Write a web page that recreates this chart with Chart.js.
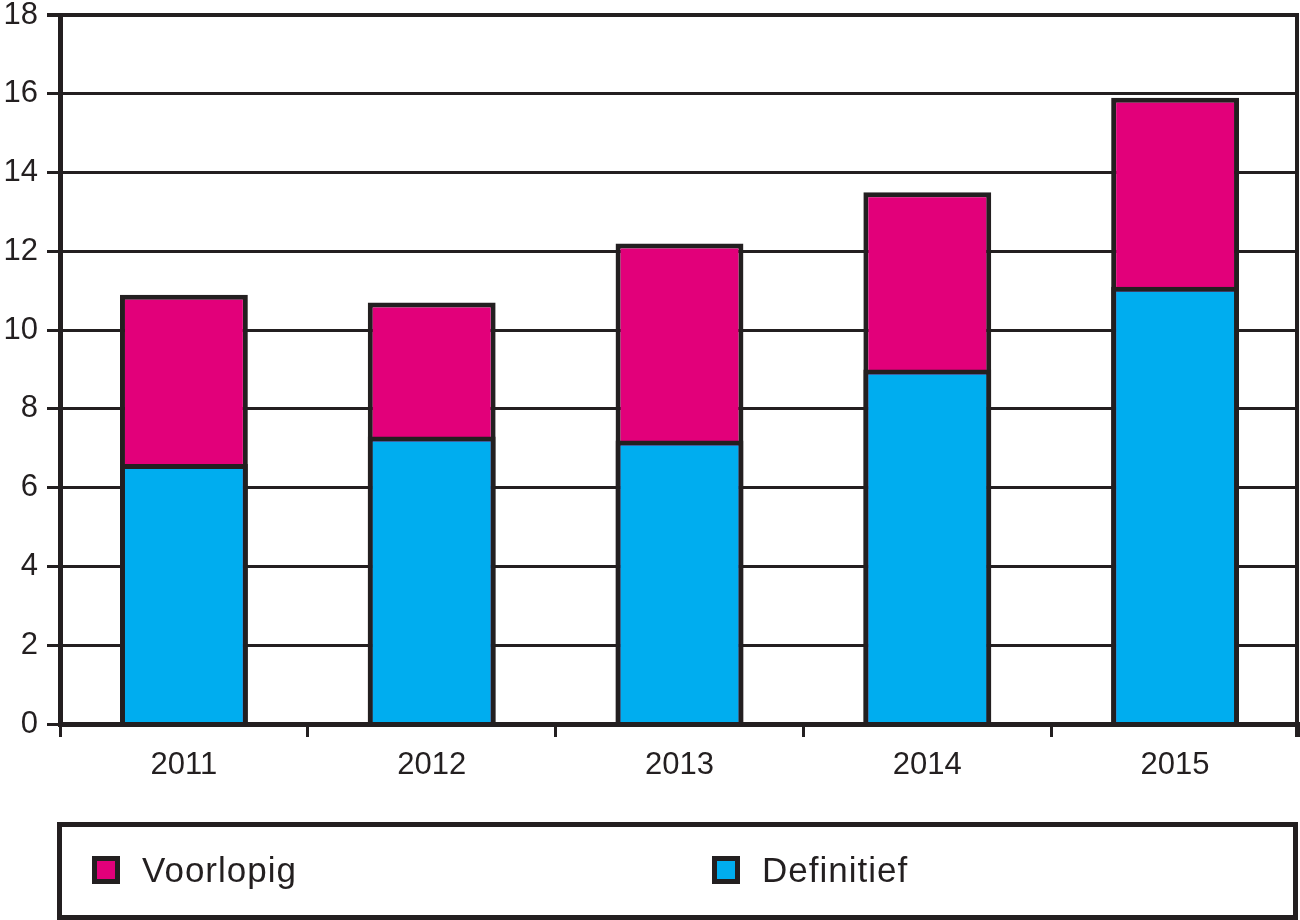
<!DOCTYPE html>
<html>
<head>
<meta charset="utf-8">
<script src="https://cdn.jsdelivr.net/npm/chart.js@4/dist/chart.umd.min.js"></script>
<style>
    html, body { margin: 0; padding: 0; background: #fff; }
    #chart { display: block; }
</style>
</head>
<body>
<canvas id="chart" width="1300" height="920"></canvas>
<script>
// Data
const years = ['2011', '2012', '2013', '2014', '2015'];
const definitief = [6.6, 7.3, 7.2, 9.0, 11.1];
const voorlopig = [4.3, 3.4, 5.0, 4.5, 4.8];
const yMin = 0;
const yMax = 18;
const yStep = 2;

// top of each column (definitief + voorlopig)
const totaal = definitief.map((v, i) => +(v + voorlopig[i]).toFixed(1));

const INK = '#231f20';
const PINK = '#e2007a';
const BLUE = '#00adef';
const FONT = '"Liberation Sans", Arial, sans-serif';


/**
 * Right edge of the plot frame, with its tick below the axis
 */
const framePlugin = {
    id: 'frame',
    afterDatasetsDraw(chart) {
        const { ctx, chartArea } = chart;
        ctx.save();
        ctx.strokeStyle = INK;
        ctx.lineWidth = 4;
        ctx.beginPath();
        ctx.moveTo(chartArea.right - 2, chartArea.top - 2);
        ctx.lineTo(chartArea.right - 2, chartArea.bottom + 13);
        ctx.stroke();
        ctx.restore();
    }
};


/**
 * Boxed legend under the chart
 */
const boxLegendPlugin = {
    id: 'boxLegend',
    afterDraw(chart, args, opts) {
        const { ctx } = chart;
        ctx.save();
        ctx.strokeStyle = INK;
        ctx.lineWidth = 5;
        ctx.strokeRect(opts.box.x, opts.box.y, opts.box.w, opts.box.h);

        ctx.font = '35px ' + FONT;
        ctx.textBaseline = 'alphabetic';
        if ('letterSpacing' in ctx) ctx.letterSpacing = '1px';
        opts.order.forEach((dsIndex, i) => {
            const ds = chart.data.datasets[dsIndex];
            const x = opts.itemX[i];
            const y = opts.itemY;
            ctx.fillStyle = ds.backgroundColor;
            ctx.fillRect(x, y, 28, 28);
            ctx.lineWidth = 5;
            ctx.strokeRect(x + 2.5, y + 2.5, 23, 23);
            ctx.fillStyle = INK;
            ctx.fillText(ds.label, x + 50, y + 26);
        });
        ctx.restore();
    }
};


new Chart(document.getElementById('chart'), {
    type: 'bar',
    data: {
        labels: years,
        datasets: [{
            label: 'Definitief',
            data: definitief,
            backgroundColor: BLUE,
            borderColor: INK,
            borderWidth: 5,
            borderSkipped: 'start',
            order: 0
        }, {
            label: 'Voorlopig',
            data: totaal,
            backgroundColor: PINK,
            borderColor: INK,
            borderWidth: 5,
            borderSkipped: 'start',
            order: 1
        }]
    },
    options: {
        responsive: false,
        animation: false,
        events: [],
        layout: {
            padding: { top: 15, right: 1, left: 0, bottom: 120 }
        },
        datasets: {
            bar: {
                grouped: false,
                categoryPercentage: 1,
                barPercentage: 0.516
            }
        },
        plugins: {
            legend: { display: false },
            tooltip: { enabled: false },
            boxLegend: {
                box: { x: 59.5, y: 824.5, w: 1236, h: 93 },
                order: [1, 0],
                itemX: [92, 712],
                itemY: 856
            }
        },
        scales: {
            x: {
                grid: {
                    offset: true,
                    drawOnChartArea: false,
                    drawTicks: true,
                    tickLength: 13,
                    lineWidth: 3,
                    color: INK,
                    z: 1
                },
                border: { display: true, color: INK, width: 5, z: 1 },
                ticks: {
                    color: INK,
                    font: { family: FONT, size: 31 },
                    padding: 10
                },
                afterFit(scale) { scale.height = 76; }
            },
            y: {
                min: yMin,
                max: yMax,
                grid: {
                    color: INK,
                    lineWidth: (c) => (c.tick && c.tick.value === yMax ? 4 : 3),
                    tickLength: 13
                },
                border: { display: true, color: INK, width: 5 },
                ticks: {
                    stepSize: yStep,
                    color: INK,
                    font: { family: FONT, size: 31 },
                    padding: 9
                },
                afterFit(scale) {
                    scale.width = 60;
                    scale.paddingTop = 0;
                    scale.paddingBottom = 0;
                }
            }
        }
    },
    plugins: [framePlugin, boxLegendPlugin]
});
</script>
</body>
</html>
